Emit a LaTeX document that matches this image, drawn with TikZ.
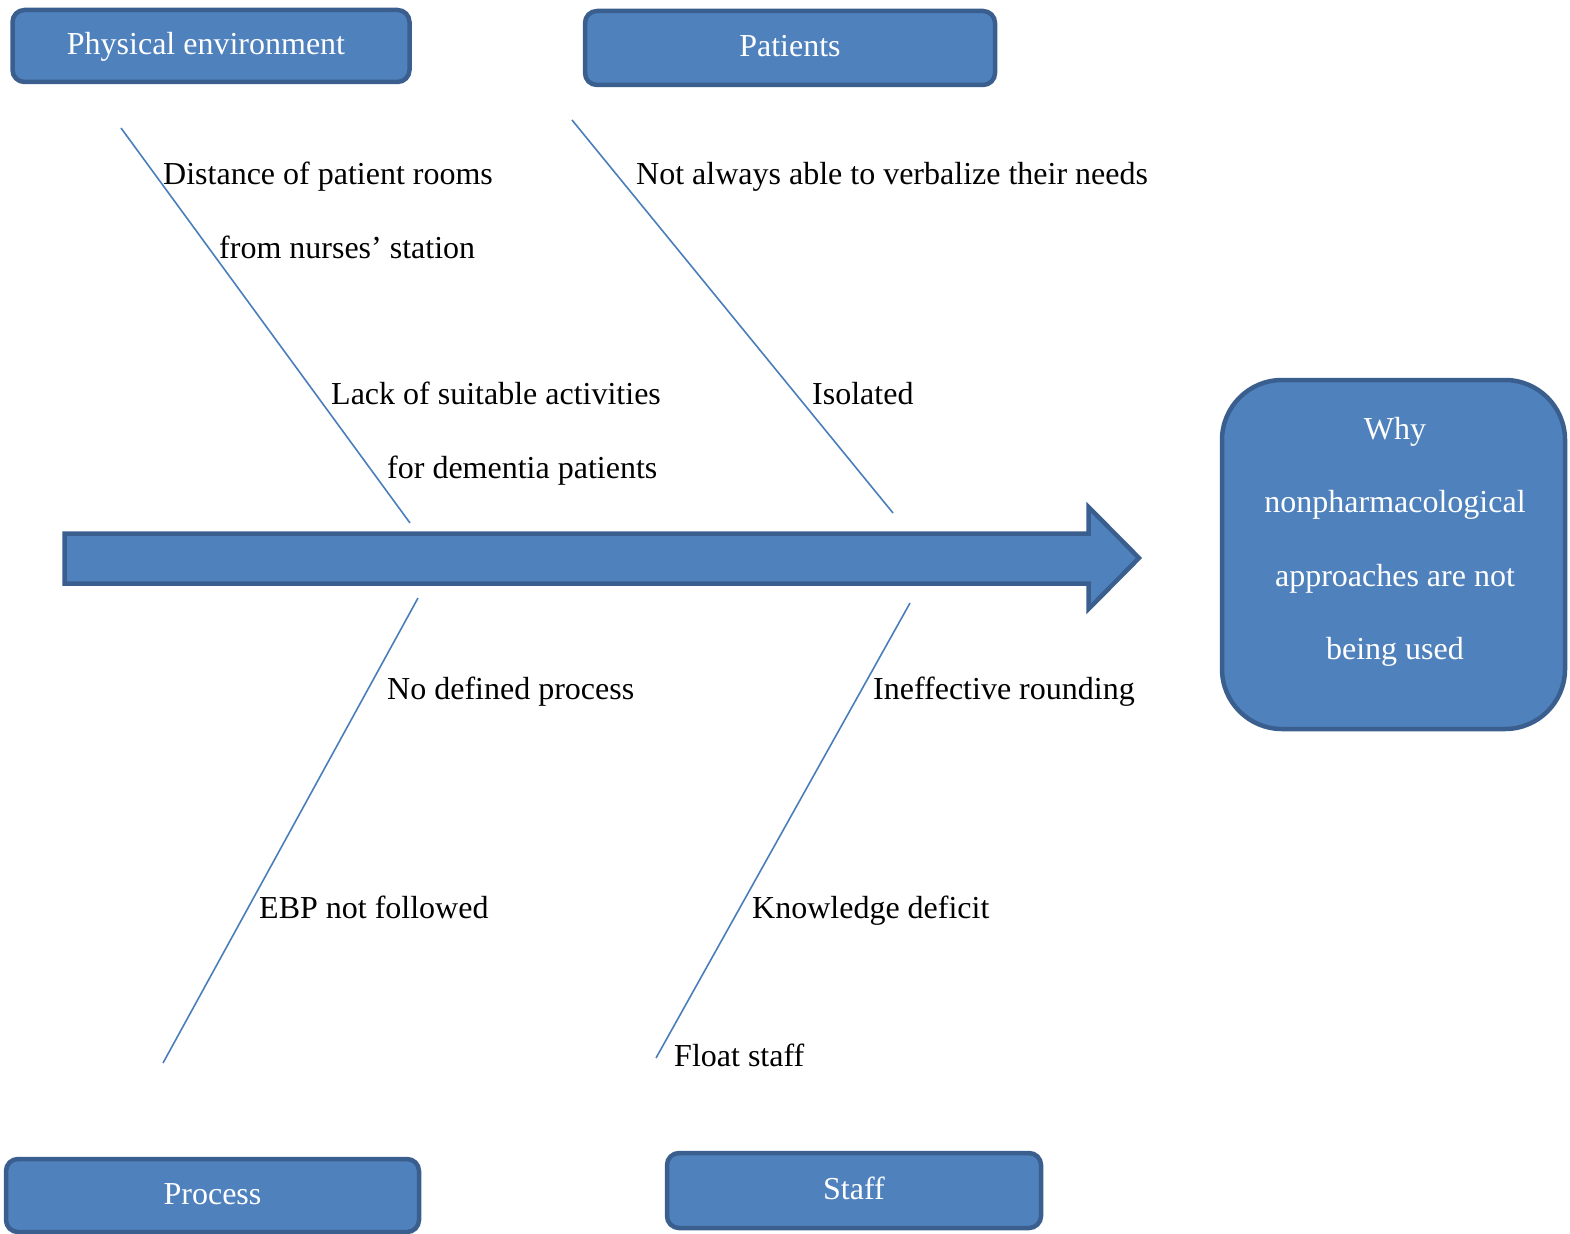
\documentclass[tikz,border=0pt]{standalone}
\usepackage{fontspec}
\setmainfont{Liberation Serif}
\definecolor{boxfill}{HTML}{4F81BD}
\definecolor{boxedge}{HTML}{3A5F8E}
\definecolor{bone}{HTML}{4A7EBB}
\begin{document}
\begin{tikzpicture}[x=1pt,y=-1pt,
  catbox/.style={draw=boxedge,fill=boxfill,line width=4.5pt,rounded corners=12pt,
    text=white,font=\fontsize{32}{38}\selectfont,inner sep=0pt,
    text height=24pt,text depth=7pt},
  cause/.style={anchor=base west,inner sep=0pt,font=\fontsize{32}{38}\selectfont,text=black},
  boneline/.style={draw=bone,line width=1.6pt}]
\useasboundingbox (0,0) rectangle (1570,1233);
% category boxes
\node[catbox,minimum width=397pt,minimum height=72pt] (phys) at (211,46) {\hspace*{-10pt}Physical environment};
\node[catbox,minimum width=410pt,minimum height=74pt] (pat) at (790,48) {Patients};
\node[catbox,minimum width=413pt,minimum height=73pt] (proc) at (212.5,1195.5) {Process};
\node[catbox,minimum width=374pt,minimum height=75pt] (staff) at (854,1190.5) {Staff};
% effect box
\node[draw=boxedge,fill=boxfill,line width=4.5pt,rounded corners=60pt,
  minimum width=343pt,minimum height=349pt,inner sep=0pt] (why) at (1393.5,554.5) {};
\node[anchor=north,inner sep=0pt,align=center,text=white,
  font=\fontsize{32}{73.5}\selectfont] (whytext) at (1395,417)
  {Why\\nonpharmacological\\approaches are not\\being used};
% spine arrow
\draw[draw=boxedge,fill=boxfill,line width=4.5pt,line join=miter]
  (64.5,533.5) -- (1088.5,533.5) -- (1088.5,507) -- (1139,558) -- (1088.5,609) -- (1088.5,583.5) -- (64.5,583.5) -- cycle;
% bones
\coordinate (b1s) at (121,128); \coordinate (b1e) at (410,523);
\coordinate (b2s) at (572,120); \coordinate (b2e) at (893,513);
\coordinate (b3s) at (418,598); \coordinate (b3e) at (163,1063);
\coordinate (b4s) at (910,603); \coordinate (b4e) at (656,1058);
\draw[boneline] (b1s) -- (b1e);
\draw[boneline] (b2s) -- (b2e);
\draw[boneline] (b3s) -- (b3e);
\draw[boneline] (b4s) -- (b4e);
% causes
\node[cause] (c1) at (163,184.5) {Distance of patient rooms};
\node[cause] (c2) at (219,258.5) {from nurses’ station};
\node[cause] (c3) at (331,404.5) {Lack of suitable activities};
\node[cause] (c4) at (387,478.5) {for dementia patients};
\node[cause] (c5) at (636,184.5) {Not always able to verbalize their needs};
\node[cause] (c6) at (812,404.5) {Isolated};
\node[cause] (c7) at (387,699.5) {No defined process};
\node[cause] (c8) at (873,699.5) {Ineffective rounding};
\node[cause] (c9) at (259,918.5) {EBP not followed};
\node[cause] (c10) at (752,918.5) {Knowledge deficit};
\node[cause] (c11) at (674,1066.5) {Float staff};
\end{tikzpicture}
\end{document}
